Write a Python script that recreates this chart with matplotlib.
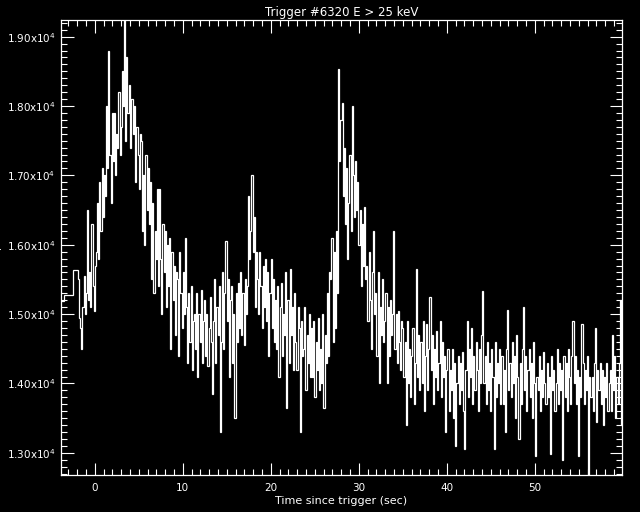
import numpy as np
import matplotlib
matplotlib.use("Agg")
import matplotlib.pyplot as plt
from matplotlib.ticker import MultipleLocator, FuncFormatter

# pre-trigger 1.024 s bins (first one clipped at plot edge)
pre_edges = [-3.84, -3.49, -2.47]
pre_counts = [15190, 15280, 15630]

# 0.128 s bins starting at -1.92 s, 8 bins per row
t_start = -1.92
bin_w = 0.128
counts = [
    15500, 14950, 14800, 14500, 15100, 15550, 15000, 15300,
    16500, 15200, 15600, 15100, 16300, 15400, 15050, 15700,
    15900, 16600, 15800, 16900, 16200, 17100, 16400, 17000,
    16700, 18000, 17100, 18800, 17300, 16600, 17900, 17200,
    17900, 17000, 17600, 17400, 18200, 17300, 17700, 18500,
    18000, 19400, 17500, 18700, 17900, 18300, 17400, 18100,
    18100, 17600, 18000, 16900, 17700, 17300, 16800, 17600,
    17500, 16200, 17000, 16000, 17300, 16500, 17100, 16300,
    16900, 15500, 16600, 15300, 16200, 15800, 16800, 15400,
    16800, 15800, 15000, 16300, 15600, 16200, 15100, 16000,
    15400, 16100, 14500, 15900, 15200, 15700, 14700, 15600,
    15500, 14400, 15900, 15300, 14800, 15600, 15000, 16100,
    15100, 14300, 15300, 14600, 15400, 14200, 14900, 15000,
    14500, 15300, 14100, 15000, 14600, 15350, 14300, 14900,
    15200, 14400, 15000, 14250, 14800, 15250, 14600, 13850,
    14900, 15500, 14300, 15100, 14700, 15400, 13300, 14600,
    15600, 14500, 15300, 16050, 14900, 15500, 14100, 15200,
    15400, 14300, 15000, 13500, 15300, 14600, 15450, 14800,
    15600, 14700, 15300, 14550, 15500, 15000, 15400, 16700,
    15800, 16200, 17000, 15900, 16400, 15100, 15900, 15500,
    15000, 15900, 15400, 14800, 15700, 15100, 15800, 14900,
    15600, 14400, 15300, 15800, 14800, 15500, 14600, 15200,
    14500, 15400, 14100, 15100, 15450, 14400, 15000, 14700,
    15600, 13650, 15200, 14300, 15650, 14700, 15100, 14200,
    15300, 14600, 14200, 15100, 14800, 13300, 14900, 14400,
    14500, 15100, 13900, 14700, 14300, 15000, 14100, 14800,
    14100, 14900, 13800, 14600, 14200, 14950, 13900, 14500,
    14000, 15000, 13650, 14700, 14300, 15300, 14400, 15600,
    15500, 16100, 14600, 15900, 14800, 16200, 15300, 18540,
    17200, 17800, 18050, 16700, 17400, 16300, 17100, 15800,
    16600, 17300, 16200, 18000, 17000, 16400, 17200, 16500,
    16900, 16000, 16500, 15400, 16300, 15700, 16550, 15500,
    15700, 14900, 15900, 15200, 14500, 15600, 16200, 15000,
    15300, 14400, 15600, 14000, 15100, 14700, 15500, 14600,
    14900, 15300, 14000, 15100, 14400, 15200, 14700, 15000,
    16200, 14500, 15000, 14300, 15050, 14600, 14200, 14900,
    14800, 14100, 14600, 13400, 14900, 14000, 14500, 13800,
    14400, 14800, 13700, 14300, 15650, 14100, 14700, 13900,
    14600, 14000, 14900, 13600, 14400, 14850, 13900, 14500,
    15240, 14200, 14700, 13700, 14500, 14100, 14750, 13900,
    14300, 14900, 13800, 14600, 14100, 14400, 13300, 14200,
    14500, 13600, 14200, 13900, 14500, 13500, 14300, 13100,
    14000, 14400, 13700, 14300, 13900, 14450, 13600, 13050,
    14200, 14900, 13800, 14500, 14100, 14800, 13700, 14400,
    13900, 14600, 14200, 13600, 14500, 14000, 14700, 15340,
    14000, 14400, 13700, 14600, 13900, 14300, 13600, 14500,
    14100, 13050, 14600, 13800, 14300, 14000, 14500, 13700,
    14400, 13700, 14200, 13300, 14500, 15060, 13900, 14300,
    13800, 14600, 14000, 14400, 13500, 14700, 14100, 13200,
    14300, 13700, 14500, 15100, 13900, 14400, 13600, 14200,
    14500, 13800, 14300, 13500, 14600, 14000, 12950, 14100,
    13900, 14400, 13600, 14200, 13800, 14450, 14000, 13700,
    14300, 13800, 14100, 12980, 14400, 13900, 14200, 13600,
    14000, 14500, 13700, 14300, 13900, 14200, 12900, 14400,
    13800, 14300, 13600, 14500, 14100, 13700, 14400, 14900,
    14000, 14400, 13700, 14200, 12950, 14100, 13800, 14850,
    14300, 13700, 14200, 13900, 14400, 12650, 14100, 13800,
    14100, 13600, 14300, 14800, 13450, 14200, 13900, 14300,
    13700, 14200, 13400, 14100, 13800, 14300, 13600, 14000,
    14200, 13600, 14700, 13900, 14400, 13500, 14100, 13700,
    14300, 15200, 13400, 14900, 13600, 14500, 14000, 14200,
]

title = "Trigger #6320 E > 25 keV"
xlabel = "Time since trigger (sec)"
ylabel = "Counts/sec"

edges = np.concatenate([pre_edges, t_start + bin_w * np.arange(len(counts) + 1)])
values = np.concatenate([pre_counts, counts])

fig = plt.figure(figsize=(6.4, 5.12), dpi=100, facecolor="black")
ax = fig.add_axes([61/640, 37/512, 561/640, 455/512], facecolor="black")

ax.stairs(values, edges, baseline=None, color="white", lw=0.9)

ax.set_xlim(-3.84, 59.9)
ax.set_ylim(12680, 19240)

ax.xaxis.set_major_locator(MultipleLocator(10))
ax.xaxis.set_minor_locator(MultipleLocator(1))
ax.yaxis.set_major_locator(MultipleLocator(1000))
ax.yaxis.set_minor_locator(MultipleLocator(100))
ax.yaxis.set_major_formatter(FuncFormatter(lambda v, p: "%.2fx10$^{4}$" % (v / 1e4)))

for s in ax.spines.values():
    s.set_color("white")
    s.set_linewidth(0.9)
ax.tick_params(which="both", direction="in", colors="white", top=True, right=True,
               labelsize=7.5, width=0.8)
ax.tick_params(which="major", length=9)
ax.tick_params(which="minor", length=4.5)
ax.tick_params(axis="x", pad=6)
ax.tick_params(axis="y", pad=4)

ax.set_title(title, color="white", fontsize=8.5, pad=3)
ax.set_xlabel(xlabel, color="white", fontsize=8, labelpad=2)
fig.text(-3/640, 0.5 + 0.5*(37/512 - (512-475)/512), ylabel, rotation=90, color="white",
         fontsize=8, ha="center", va="center")

fig.savefig("out.png", dpi=100, facecolor="black")
